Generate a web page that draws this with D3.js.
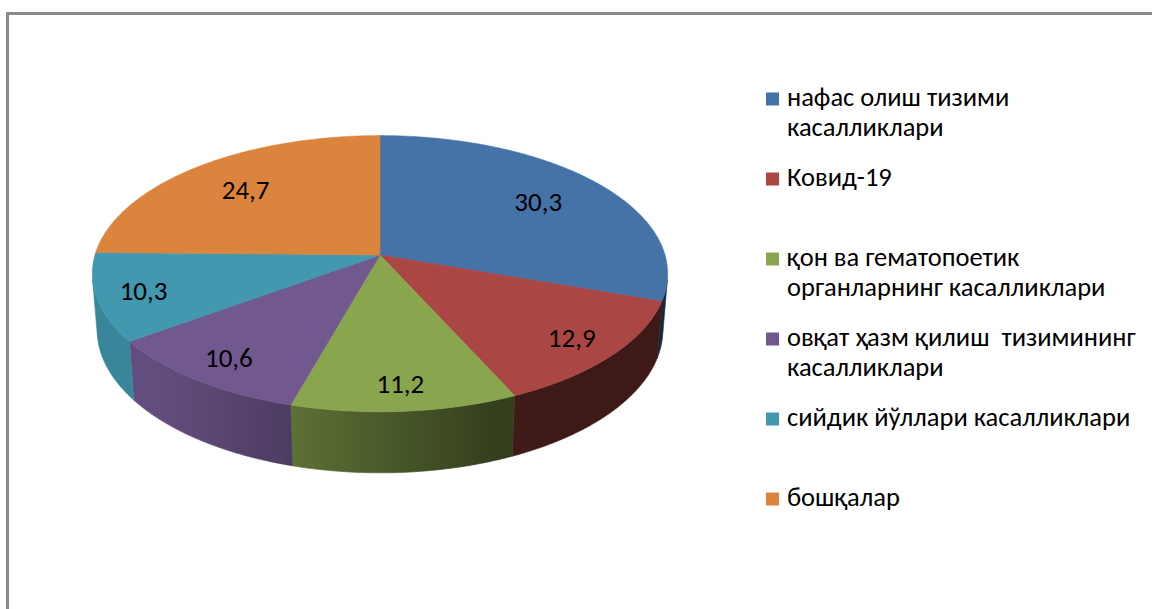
<!DOCTYPE html>
<meta charset="utf-8">
<style>
	body { margin: 0; background: #fff; }
	text { font-family: Carlito, Calibri, Lato, "Open Sans", sans-serif; }
</style>
<svg id="pieChart" width="1152" height="609"></svg>
<script src="https://d3js.org/d3.v7.min.js"></script>
<script>
	// data
	var categories = [
		"нафас олиш тизими\nкасалликлари",
		"Ковид-19",
		"қон ва гематопоетик\nорганларнинг касалликлари",
		"овқат ҳазм қилиш  тизимининг\nкасалликлари",
		"сийдик йўллари касалликлари",
		"бошқалар"
	];
	var values = [30.3, 12.9, 11.2, 10.6, 10.3, 24.7];
	var colors = ["#4572A7", "#AA4643", "#89A54E", "#71588F", "#4198AF", "#DB843D"];

	var svg = d3.select("#pieChart");

	// frame of the embedded chart
	svg.append("rect")
		.attr("x", 7.5).attr("y", 13.5)
		.attr("width", 1200).attr("height", 700)
		.attr("fill", "#fff")
		.attr("stroke", "#8a8a8a")
		.attr("stroke-width", 3);

	// 3d projection of the pie disc
	var cx = 380, cy = 255, k = 285,
		phi = 28.4 * Math.PI / 180,
		sinP = Math.sin(phi), cosP = Math.cos(phi),
		D = 6.5, H = 0.225;

	function proj(a, r, h) {
		var x = r * Math.sin(a), z = -r * Math.cos(a);
		var v = z * sinP - h * cosP,
			w = z * cosP + h * sinP,
			s = D / (D - w);
		return [cx + k * x * s, cy + k * v * s];
	}

	var color = d3.scaleOrdinal().domain(categories).range(colors);
	var pie = d3.pie().sort(null).value(function(d) { return d.value; });
	var data = categories.map(function(c, i) { return {name: c, value: values[i]}; });
	var arcs = pie(data);

	var fmt = d3.formatLocale({decimal: ",", thousands: " ", grouping: [3], currency: ["", ""]}).format(".1f");

	function arcPoints(a0, a1, h) {
		var n = Math.max(2, Math.ceil((a1 - a0) / (Math.PI / 360)));
		var pts = [];
		for (var j = 0; j <= n; j++) pts.push(proj(a0 + (a1 - a0) * j / n, 1, h));
		return pts;
	}

	// shading of the side wall, lighter on the left
	function shade(t) {
		var sx = 2 * t - 1;
		return Math.max(0.36, Math.min(0.88, 0.55 - 0.42 * sx));
	}

	var defs = svg.append("defs");
	arcs.forEach(function(d, i) {
		var g = defs.append("linearGradient")
			.attr("id", "side" + i)
			.attr("gradientUnits", "userSpaceOnUse")
			.attr("x1", cx - k).attr("x2", cx + k)
			.attr("y1", 0).attr("y2", 0);
		d3.range(0, 1.0001, 0.1).forEach(function(t) {
			var c = d3.rgb(color(d.data.name)), f = shade(t);
			g.append("stop")
				.attr("offset", t)
				.attr("stop-color", d3.rgb(c.r * f, c.g * f, c.b * f).formatHex());
		});
	});

	// visible part of the outer wall
	var aVis = Math.acos(-1 / (D * cosP));
	var visLo = aVis, visHi = 2 * Math.PI - aVis;
	var line = d3.line();

	svg.append("g").selectAll("path")
		.data(arcs.filter(function(d) { return d.endAngle > visLo && d.startAngle < visHi; }))
		.enter().append("path")
		.attr("d", function(d) {
			var a0 = Math.max(d.startAngle, visLo), a1 = Math.min(d.endAngle, visHi);
			var top = arcPoints(a0, a1, 0), bot = arcPoints(a0, a1, -H).reverse();
			return line(top.concat(bot)) + "Z";
		})
		.attr("fill", function(d) { return "url(#side" + d.index + ")"; })
		.attr("stroke", function(d) { return "url(#side" + d.index + ")"; })
		.attr("stroke-width", 0.6);

	svg.append("g").selectAll("path")
		.data(arcs)
		.enter().append("path")
		.attr("d", function(d) {
			return line([proj(0, 0, 0)].concat(arcPoints(d.startAngle, d.endAngle, 0))) + "Z";
		})
		.attr("fill", function(d) { return color(d.data.name); })
		.attr("stroke", function(d) { return color(d.data.name); })
		.attr("stroke-width", 0.6);

	// data labels
	svg.append("g").selectAll("text")
		.data(arcs)
		.enter().append("text")
		.attr("transform", function(d) {
			var a = (d.startAngle + d.endAngle) / 2;
			var r = -Math.cos(a) > 0 ? 0.84 : 0.72;
			var p = proj(a, r, 0);
			return "translate(" + p[0] + "," + p[1] + ")";
		})
		.attr("text-anchor", "middle")
		.attr("dy", "0.35em")
		.style("font-size", "27px")
		.attr("fill", "#000")
		.text(function(d) { return fmt(d.data.value); });

	// legend
	var ly = d3.scaleLinear().domain([0, categories.length - 1]).range([106, 506]);
	var item = svg.append("g").selectAll("g")
		.data(categories)
		.enter().append("g")
		.attr("transform", function(d, i) { return "translate(766," + ly(i) + ")"; });

	item.append("rect")
		.attr("x", 0).attr("y", -13.5)
		.attr("width", 13).attr("height", 13)
		.attr("fill", function(d) { return color(d); });

	item.append("text")
		.attr("x", 21)
		.style("font-size", "26.5px")
		.style("white-space", "pre")
		.attr("fill", "#000")
		.selectAll("tspan")
		.data(function(d) { return d.split("\n"); })
		.enter().append("tspan")
		.attr("x", 21)
		.attr("y", function(d, j) { return j * 30; })
		.text(function(d) { return d; });
</script>
